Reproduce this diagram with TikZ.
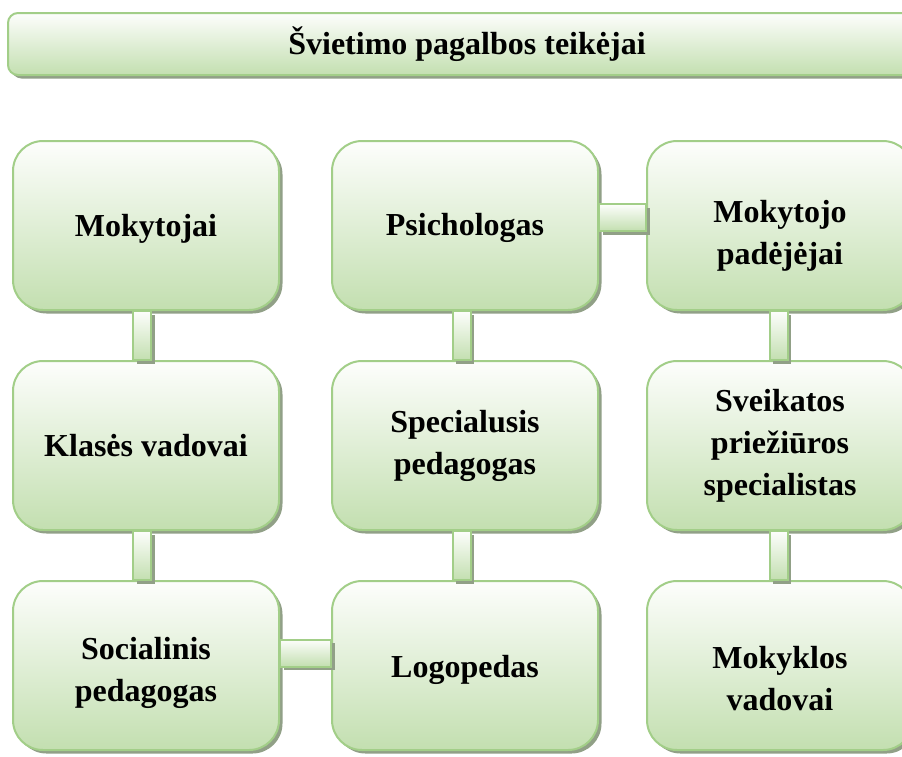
\documentclass[tikz,border=0pt]{standalone}
\usepackage{fontspec}
\setmainfont{Liberation Serif}
\usetikzlibrary{positioning, shadows}
\definecolor{boxline}{RGB}{162,206,136}
\definecolor{boxtop}{RGB}{253,254,252}
\definecolor{boxbottom}{RGB}{195,223,176}
\definecolor{boxshadow}{RGB}{145,160,135}
\tikzset {
    x=1pt, y=-1pt,
    node distance=49pt,
    every node/.style={font=\bfseries\fontsize{32}{42}\selectfont, align=center},
    greenfill/.style={draw=boxline, line width=2pt,
        top color=boxtop, bottom color=boxbottom,
        drop shadow={shadow xshift=3.5pt, shadow yshift=-3.5pt, fill=boxshadow, opacity=1}},
    block/.style={greenfill, rounded corners=30pt, inner sep=0pt,
        minimum width=266pt, minimum height=169pt},
    header/.style={greenfill, rounded corners=10pt, inner sep=0pt,
        minimum width=918pt, minimum height=62pt},
    bar/.style={greenfill}
}
\begin{document}
\begin{tikzpicture}
    \useasboundingbox (0,0) rectangle (902,756);
    \clip (0,0) rectangle (902,756);

    \node[header] (title) at (467,44) {Švietimo pagalbos teikėjai};

    % rules only push the text a bit down in its box
    \node[block] (mok) at (146,225.5) {\rule{0pt}{28pt}Mokytojai};
    \node[block, below=of mok] (kla) {Klasės vadovai};
    \node[block, below=of kla] (soc) {\rule{0pt}{38pt}Socialinis\\pedagogas};

    \node[block, right=51pt of mok] (psi) {\rule{0pt}{28pt}Psichologas};
    \node[block, below=of psi] (spe) {Specialusis\\pedagogas};
    \node[block, below=of spe] (logo) {\rule{0pt}{32pt}Logopedas};

    \node[block, right=47pt of psi] (pad) {\rule{0pt}{42pt}Mokytojo\\padėjėjai};
    \node[block, below=of pad] (sve) {Sveikatos\\priežiūros\\specialistas};
    \node[block, below=of sve] (vad) {\rule{0pt}{48pt}Mokyklos\\vadovai};

    % vertical bars
    \draw[bar] ([xshift=-13pt]mok.south) rectangle ([xshift=5pt]kla.north);
    \draw[bar] ([xshift=-13pt]kla.south) rectangle ([xshift=5pt]soc.north);
    \draw[bar] ([xshift=-12.5pt]psi.south) rectangle ([xshift=5.5pt]spe.north);
    \draw[bar] ([xshift=-12.5pt]spe.south) rectangle ([xshift=5.5pt]logo.north);
    \draw[bar] ([xshift=-10.5pt]pad.south) rectangle ([xshift=7.5pt]sve.north);
    \draw[bar] ([xshift=-10.5pt]sve.south) rectangle ([xshift=7.5pt]vad.north);

    % horizontal bars
    \draw[bar] ([yshift=21.5pt]psi.east) rectangle ([yshift=-5.5pt]pad.west);
    \draw[bar] ([yshift=26pt]soc.east) rectangle ([yshift=-1pt]logo.west);
\end{tikzpicture}
\end{document}
